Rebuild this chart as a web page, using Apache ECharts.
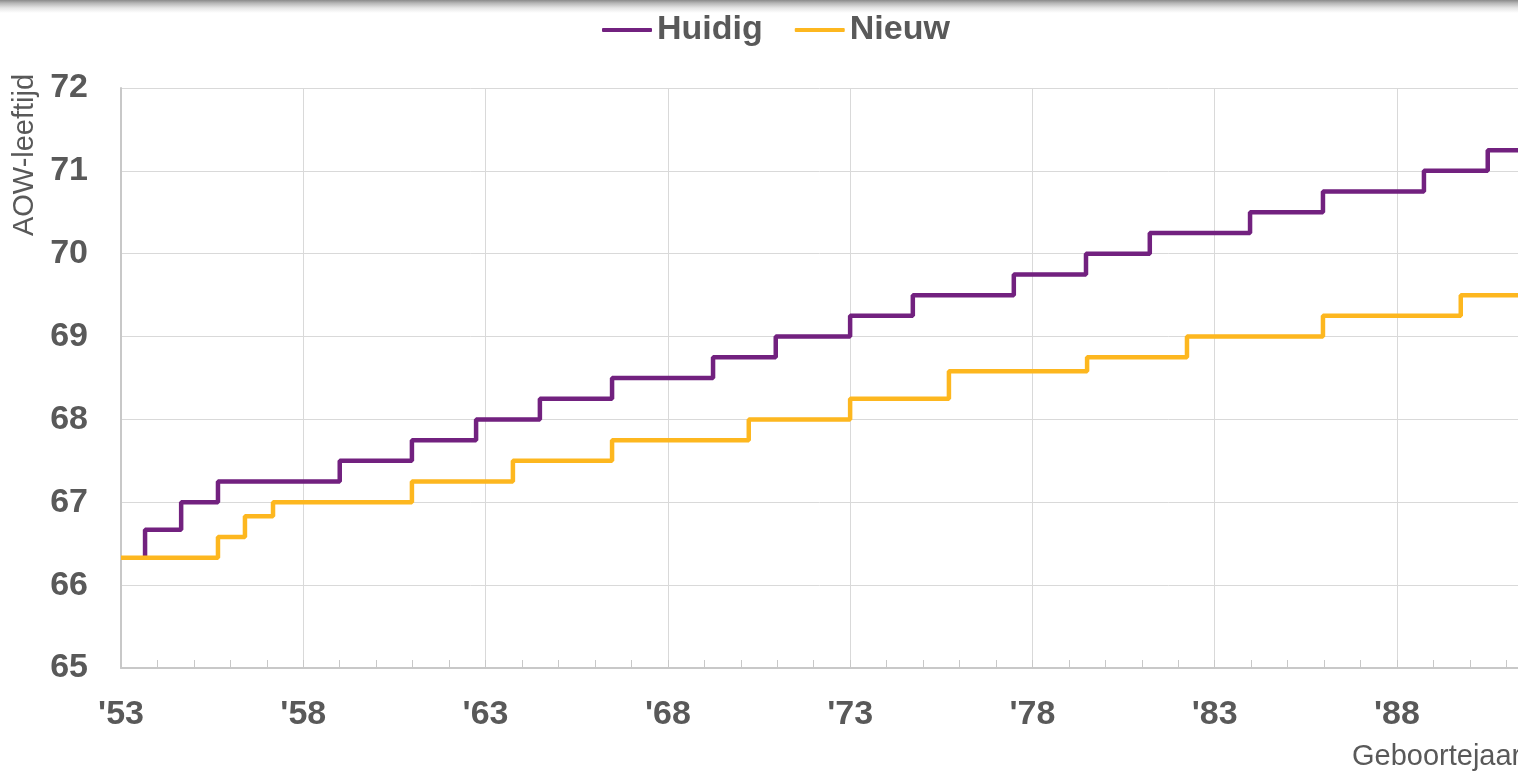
<!DOCTYPE html>
<html>
<head>
<meta charset="utf-8">
<script src="https://cdn.jsdelivr.net/npm/echarts@6/dist/echarts.min.js"></script>
<style>
  html, body { margin: 0; padding: 0; }
  body { width: 1518px; height: 771px; overflow: hidden;
         background: linear-gradient(to bottom, #8a8a8a 0px, #b5b5b5 3px, #e6e6e6 8px, #ffffff 13px); }
  #chart { width: 1518px; height: 771px; }
</style>
</head>
<body>
<div id="chart"></div>
<script>
// Birth year ('53 = 1953) where each level starts, and the AOW age at that level
const huidigYears = [53.66, 53.66, 54.65, 55.66, 59.0, 60.98, 62.74, 64.49, 66.47, 69.24, 70.96, 73.0, 74.72, 77.49, 79.47, 81.22, 83.97, 85.97, 88.74, 90.49, 91.32];
const huidigAges  = [66.33, 66.67, 67.0, 67.25, 67.5, 67.75, 68.0, 68.25, 68.5, 68.75, 69.0, 69.25, 69.5, 69.75, 70.0, 70.25, 70.5, 70.75, 71.0, 71.25, 71.25];
const nieuwYears  = [53.0, 55.66, 56.4, 57.17, 60.98, 63.75, 66.47, 70.22, 73.0, 75.71, 79.5, 82.24, 85.97, 89.75, 91.32];
const nieuwAges   = [66.33, 66.58, 66.83, 67.0, 67.25, 67.5, 67.75, 68.0, 68.25, 68.58, 68.75, 69.0, 69.25, 69.5, 69.5];
const seriesNames = ['Huidig', 'Nieuw'];
const yTicks = [65, 66, 67, 68, 69, 70, 71, 72];

const zip = (xs, ys) => xs.map((x, i) => [x, ys[i]]);
const txt = '#595959';
const font = 'Liberation Sans, Arial, sans-serif';

const chart = echarts.init(document.getElementById('chart'), null, { renderer: 'canvas' });
chart.setOption({
  backgroundColor: 'transparent',
  animation: false,
  legend: {
    left: 597, top: 8,
    itemWidth: 50, itemHeight: 4, itemGap: 32,
    icon: 'roundRect',
    textStyle: { color: txt, fontSize: 34, fontWeight: 'bold', fontFamily: font },
    data: seriesNames
  },
  grid: { left: 121, top: 88, right: 0, bottom: 103, containLabel: false },
  xAxis: {
    type: 'value', min: 53, max: 91.32, interval: 5,
    axisLine: { show: true, lineStyle: { color: '#c8c8c8', width: 2 } },
    axisTick: { show: true, inside: true, length: 8, lineStyle: { color: '#c8c8c8', width: 1 } },
    minorTick: { show: true, splitNumber: 5, length: 8, lineStyle: { color: '#c8c8c8', width: 1 } },
    splitLine: { show: true, lineStyle: { color: '#d9d9d9', width: 1 } },
    axisLabel: { color: txt, fontSize: 34, fontWeight: 'bold', fontFamily: font, margin: 30,
                 showMaxLabel: false, formatter: v => "'" + v }
  },
  yAxis: {
    type: 'value', min: yTicks[0], max: yTicks[yTicks.length - 1], interval: 1,
    axisLine: { show: true, lineStyle: { color: '#c8c8c8', width: 2 } },
    axisTick: { show: false },
    splitLine: { show: true, lineStyle: { color: '#d9d9d9', width: 1 } },
    axisLabel: { color: txt, fontSize: 34, fontWeight: 'bold', fontFamily: font, margin: 33,
                 padding: [4, 0, 0, 0] }
  },
  graphic: [
    { type: 'text', x: 25, y: 155, rotation: Math.PI / 2,
      style: { text: 'AOW-leeftijd', fill: txt, font: '29px ' + font, textAlign: 'center', textVerticalAlign: 'middle' } },
    { type: 'text', x: 1352, y: 757,
      style: { text: 'Geboortejaar', fill: txt, font: '29px ' + font, textAlign: 'left', textVerticalAlign: 'middle' } }
  ],
  series: [
    { name: seriesNames[0], type: 'line', step: 'end', symbol: 'none',
      lineStyle: { color: '#72217f', width: 4.5 }, itemStyle: { color: '#72217f' },
      data: zip(huidigYears, huidigAges) },
    { name: seriesNames[1], type: 'line', step: 'end', symbol: 'none',
      lineStyle: { color: '#fdb71f', width: 4.5 }, itemStyle: { color: '#fdb71f' },
      data: zip(nieuwYears, nieuwAges) }
  ]
});
</script>
</body>
</html>
